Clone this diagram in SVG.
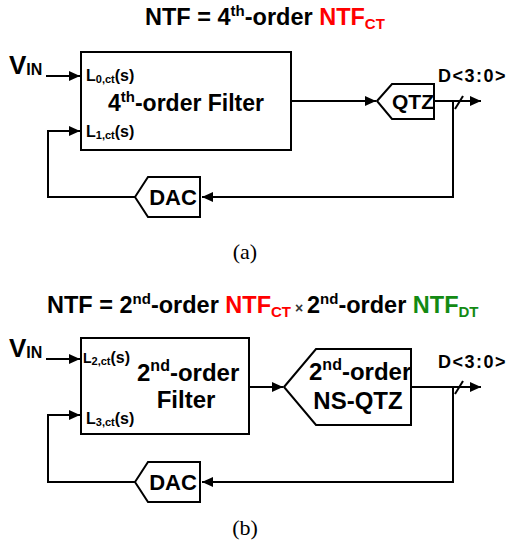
<svg xmlns="http://www.w3.org/2000/svg" width="506" height="545" viewBox="0 0 506 545">
<style>
text{font-family:"Liberation Sans",Arial,sans-serif;font-weight:bold;fill:#000}
.t{font-size:23.5px}
.b{font-size:23px}
.sm{font-size:16px}
.sub{font-size:11px}
.cap{font-family:"Liberation Serif","Times New Roman",serif;font-weight:normal;font-size:22px}
.red{fill:#ff0000}
.grn{fill:#138a13}
.ln{fill:none;stroke:#000;stroke-width:2}
.shp{fill:#fff;stroke:#000;stroke-width:2}
</style>
<defs>
<marker id="ah" viewBox="0 0 10 10" refX="10" refY="5" markerWidth="11" markerHeight="11" markerUnits="userSpaceOnUse" orient="auto">
<path d="M0,0.5 L10,5 L0,9.5 z" fill="#000"/>
</marker>
</defs>

<!-- (a) -->
<text class="t" x="145" y="25">NTF = 4<tspan font-size="15" dy="-9">th</tspan><tspan dy="9">-order </tspan><tspan class="red">NTF</tspan><tspan class="red" font-size="15" dy="4">CT</tspan></text>

<g id="vin-a"><text x="9" y="74" font-size="26">V<tspan font-size="16" dy="1">IN</tspan></text></g>

<g id="filter-a">
<rect class="shp" x="81" y="52" width="210" height="98"/>
<text class="sm" x="86" y="81">L<tspan class="sub" dy="2">0,ct</tspan><tspan dy="-2">(s)</tspan></text>
<text class="b" x="186" y="111" text-anchor="middle">4<tspan font-size="15" dy="-9">th</tspan><tspan dy="9">-order Filter</tspan></text>
<text class="sm" x="86" y="137">L<tspan class="sub" dy="2">1,ct</tspan><tspan dy="-2">(s)</tspan></text>
</g>

<g id="qtz-a">
<polygon class="shp" points="377,101 392,84 434,84 434,119 392,119"/>
<text x="413" y="109" font-size="21" text-anchor="middle">QTZ</text>
</g>

<g id="dac-a">
<polygon class="shp" points="135,197 148,177 200,177 200,217 148,217"/>
<text x="173" y="205" font-size="22" text-anchor="middle">DAC</text>
</g>

<g id="out-a"><text x="438" y="82" font-size="18" letter-spacing="1.5">D&lt;3:0&gt;</text></g>

<g id="connectors-a">
<line class="ln" x1="46" y1="76" x2="80" y2="76" marker-end="url(#ah)"/>
<line class="ln" x1="291" y1="101" x2="376" y2="101" marker-end="url(#ah)"/>
<line class="ln" x1="434" y1="101" x2="481" y2="101" marker-end="url(#ah)"/>
<line class="ln" x1="455" y1="109" x2="463" y2="96"/>
<polyline class="ln" points="453,101 453,197 202,197" marker-end="url(#ah)"/>
<polyline class="ln" points="135,197 48,197 48,131 80,131" marker-end="url(#ah)"/>
</g>

<text class="cap" x="245" y="259" text-anchor="middle">(a)</text>

<!-- (b) -->
<text class="t" x="47" y="313">NTF = 2<tspan font-size="15" dy="-9">nd</tspan><tspan dy="9">-order </tspan><tspan class="red">NTF</tspan><tspan class="red" font-size="15" dy="4">CT</tspan><tspan font-size="14" dy="-4" fill="#333"> × </tspan><tspan>2</tspan><tspan font-size="15" dy="-9">nd</tspan><tspan dy="9">-order </tspan><tspan class="grn">NTF</tspan><tspan class="grn" font-size="15" dy="4">DT</tspan></text>

<g id="vin-b"><text x="9" y="357" font-size="26">V<tspan font-size="16" dy="1">IN</tspan></text></g>

<g id="filter-b">
<rect class="shp" x="81" y="338" width="168" height="96"/>
<text x="83" y="363" font-size="14">L<tspan class="sub" dy="2">2,ct</tspan><tspan dy="-2" font-size="16">(s)</tspan></text>
<text x="137" y="381" font-size="24">2<tspan font-size="16" dy="-10">nd</tspan><tspan dy="10">-order</tspan></text>
<text x="186" y="408" font-size="24" text-anchor="middle">Filter</text>
<text class="sm" x="86" y="424">L<tspan class="sub" dy="2">3,ct</tspan><tspan dy="-2">(s)</tspan></text>
</g>

<g id="nsqtz-b">
<polygon class="shp" points="284,387 316,349 411,349 411,425 316,425"/>
<text x="309" y="380" font-size="24">2<tspan font-size="16" dy="-10">nd</tspan><tspan dy="10">-order</tspan></text>
<text x="358" y="409" font-size="24" text-anchor="middle">NS-QTZ</text>
</g>

<g id="dac-b">
<polygon class="shp" points="135,482 148,462 200,462 200,502 148,502"/>
<text x="173" y="490" font-size="22" text-anchor="middle">DAC</text>
</g>

<g id="out-b"><text x="438" y="368" font-size="18" letter-spacing="1.5">D&lt;3:0&gt;</text></g>

<g id="connectors-b">
<line class="ln" x1="46" y1="359" x2="80" y2="359" marker-end="url(#ah)"/>
<line class="ln" x1="249" y1="387" x2="283" y2="387" marker-end="url(#ah)"/>
<line class="ln" x1="411" y1="387" x2="481" y2="387" marker-end="url(#ah)"/>
<line class="ln" x1="455" y1="394" x2="463" y2="381"/>
<polyline class="ln" points="453,387 453,482 202,482" marker-end="url(#ah)"/>
<polyline class="ln" points="135,482 48,482 48,415 80,415" marker-end="url(#ah)"/>
</g>

<text class="cap" x="245" y="535" text-anchor="middle">(b)</text>
</svg>
